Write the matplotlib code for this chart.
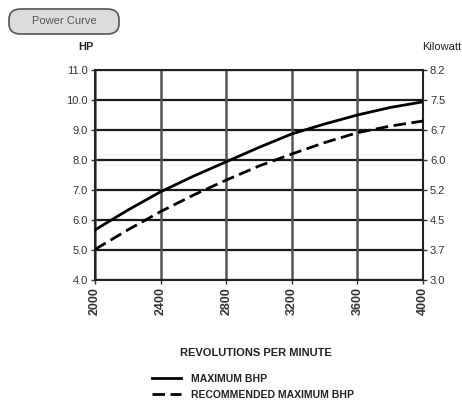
import matplotlib
matplotlib.use("Agg")
import matplotlib.pyplot as plt
from matplotlib.patches import FancyBboxPatch

plt.rcParams['font.family'] = ['Liberation Sans Narrow', 'Liberation Sans', 'DejaVu Sans']

rpm = [2000, 2200, 2400, 2600, 2800, 3000, 3200, 3400, 3600, 3800, 4000]
max_bhp = [5.67, 6.33, 6.94, 7.46, 7.94, 8.42, 8.87, 9.20, 9.50, 9.75, 9.94]
rec_bhp = [5.02, 5.67, 6.28, 6.83, 7.33, 7.80, 8.20, 8.58, 8.91, 9.13, 9.30]

x_ticks = [2000, 2400, 2800, 3200, 3600, 4000]
hp_ticks = [4.0, 5.0, 6.0, 7.0, 8.0, 9.0, 10.0, 11.0]
kw_labels = ["3.0", "3.7", "4.5", "5.2", "6.0", "6.7", "7.5", "8.2"]

W, H = 462, 409
fig = plt.figure(figsize=(W / 100, H / 100), dpi=100)
ax = fig.add_axes([95 / W, 1 - 280 / H, (423 - 95) / W, (280 - 70) / H])

ax.set_xlim(2000, 4000)
ax.set_ylim(4.0, 11.0)
for y in hp_ticks:
    ax.axhline(y, color='#1a1a1a', lw=1.6, zorder=1)
for x in x_ticks:
    ax.axvline(x, color='#555555', lw=1.8, zorder=1)

l1, = ax.plot(rpm, max_bhp, color='black', lw=2.0, zorder=3, label='MAXIMUM BHP')
l2, = ax.plot(rpm, rec_bhp, color='black', lw=2.0, ls=(0, (4.5, 2)), zorder=3,
              label='RECOMMENDED MAXIMUM BHP')

for s in ax.spines.values():
    s.set_color('#222222')
    s.set_linewidth(1.5)

ax.set_xticks(x_ticks)
ax.set_xticklabels([str(v) for v in x_ticks], rotation=90, fontsize=9,
                   fontweight='bold', color='#333333')
ax.set_yticks(hp_ticks)
ax.set_yticklabels(["%.1f" % v for v in hp_ticks], fontsize=8, color='#333333')
ax.tick_params(axis='both', length=3, width=1, color='#333333', pad=2)

ax2 = ax.twinx()
ax2.set_ylim(4.0, 11.0)
ax2.set_yticks(hp_ticks)
ax2.set_yticklabels(kw_labels, fontsize=8, color='#333333')
ax2.tick_params(axis='y', length=3, width=1, color='#333333', pad=2)
for s in ax2.spines.values():
    s.set_visible(False)

# Title box
box = FancyBboxPatch((9 / W, 1 - 34 / H), (119 - 9) / W, (34 - 9) / H,
                     boxstyle="round,pad=0,rounding_size=0.025",
                     transform=fig.transFigure, facecolor='#dcdcdc',
                     edgecolor='#555555', lw=1.2)
fig.patches.append(box)
fig.text(64 / W, 1 - 21.5 / H, "Power Curve", ha='center', va='center',
         fontsize=8, color='#555555')

fig.text(86 / W, 1 - 47 / H, "HP", ha='center', va='center', fontsize=8,
         fontweight='bold', color='#222222')
fig.text(461 / W, 1 - 47 / H, "Kilowatt", ha='right', va='center', fontsize=8,
         color='#222222')

fig.text(256 / W, 1 - 353 / H, "REVOLUTIONS PER MINUTE", ha='center', va='center',
         fontsize=8, fontweight='bold', color='#222222')

fig.legend(handles=[l1, l2], loc='upper left',
           bbox_to_anchor=(152 / W, 1 - 374 / H), frameon=False,
           prop={'size': 7.5, 'weight': 'bold'}, handlelength=2.8,
           handletextpad=0.9, labelspacing=0.55, borderaxespad=0, borderpad=0,
           labelcolor='#222222')

fig.savefig("out.png", dpi=100)
